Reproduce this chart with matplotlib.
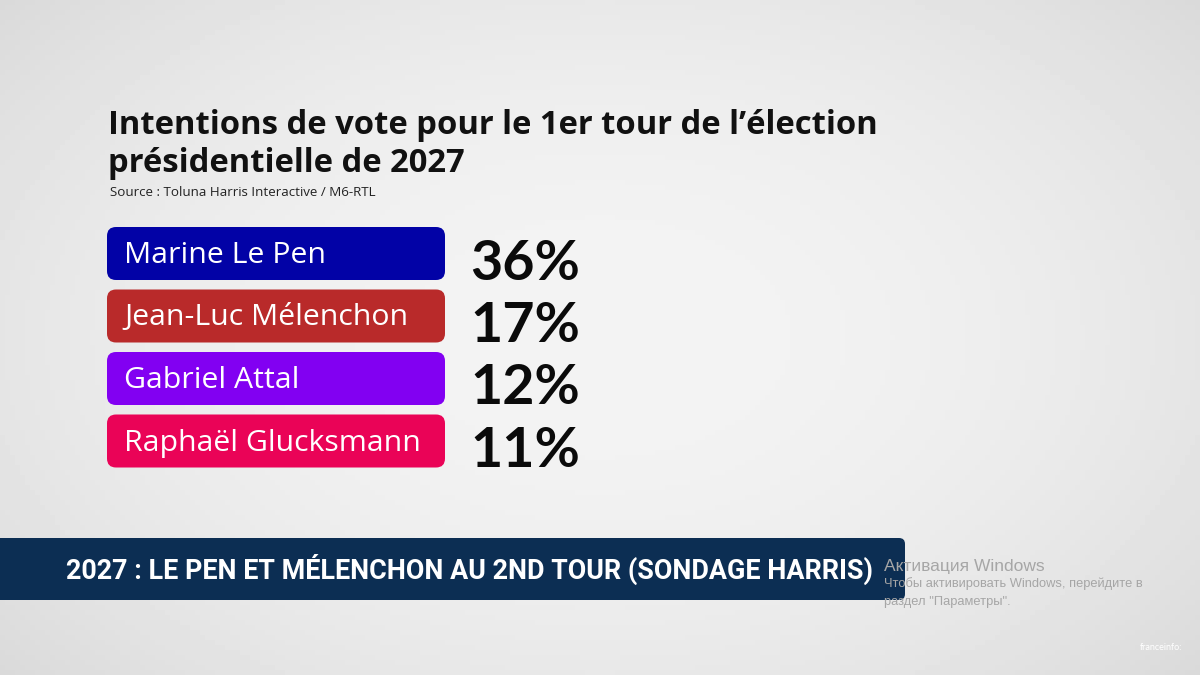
import numpy as np
import matplotlib
matplotlib.use("Agg")
import matplotlib.pyplot as plt
from matplotlib.patches import FancyBboxPatch

# data
candidates = ["Marine Le Pen", "Jean-Luc Mélenchon", "Gabriel Attal", "Raphaël Glucksmann"]
scores = [36, 17, 12, 11]
colors = ["#0202a6", "#b92a2a", "#8200f2", "#ea0357"]

title_lines = ["Intentions de vote pour le 1er tour de l’élection", "présidentielle de 2027"]
source = "Source : Toluna Harris Interactive / M6-RTL"
banner = "2027 : LE PEN ET MÉLENCHON AU 2ND TOUR (SONDAGE HARRIS)"

W, H = 1200, 675
fig = plt.figure(figsize=(12, 6.75), dpi=100)
ax = fig.add_axes([0, 0, 1, 1])
ax.set_xlim(0, W)
ax.set_ylim(H, 0)
ax.axis("off")

# soft grey background, lighter in the middle
xx, yy = np.meshgrid(np.linspace(-1, 1, 240), np.linspace(-1, 1, 135))
r = np.sqrt((xx * 0.9) ** 2 + (yy * 0.8) ** 2)
bg = 0.955 - 0.07 * np.clip(r, 0, 1.3) ** 2
ax.imshow(bg, cmap="gray", vmin=0, vmax=1, extent=[0, W, H, 0], aspect="auto", zorder=0)

# title + source
for k, line in enumerate(title_lines):
    ax.text(108, 134 + k * 38, line, fontsize=23.6, fontweight="bold", family="Open Sans",
            color="#111111", va="baseline", ha="left")
ax.text(110, 196, source, fontsize=9.6, family="Open Sans", color="#222222", va="baseline")

# label boxes + scores
top0, pitch, bh = 227, 62.5, 53
for i, (name, val, c) in enumerate(zip(candidates, scores, colors)):
    y = top0 + i * pitch
    box = FancyBboxPatch((107, y), 338, bh, boxstyle="round,pad=0,rounding_size=9",
                         fc=c, ec="none", zorder=2)
    ax.add_patch(box)
    ax.text(124, y + bh / 2 + 2, name, fontsize=21.8, family="Open Sans", color="white",
            va="center", ha="left", zorder=3)
    ax.text(470, y + bh / 2 + 10, f"{val}%", fontsize=40, fontweight="bold", family="Lato",
            color="#0a0a0a", va="center", ha="left", zorder=3)

# bottom banner
ban = FancyBboxPatch((-20, 538), 925, 62, boxstyle="round,pad=0,rounding_size=6",
                     fc="#0c2e53", ec="none", zorder=2)
ax.add_patch(ban)
ax.text(469, 569, banner, fontsize=19.4, fontweight="bold",
        family="Roboto", color="white",
        va="center", ha="center", zorder=3)

# windows watermark
ax.text(884, 566, "Активация Windows", fontsize=12.5, family="Liberation Sans",
        color="#a6a6a6", va="center", zorder=4)
ax.text(884, 584, "Чтобы активировать Windows, перейдите в", fontsize=9.3,
        family="Liberation Sans", color="#a6a6a6", va="center", zorder=4)
ax.text(884, 602, "раздел \"Параметры\".", fontsize=9.3, family="Liberation Sans",
        color="#a6a6a6", va="center", zorder=4)

# channel logo
ax.text(1140, 648, "franceinfo:", fontsize=6.5, family="Lato", color="white",
        va="center", ha="left", zorder=4)

fig.savefig("out.png", dpi=100)
